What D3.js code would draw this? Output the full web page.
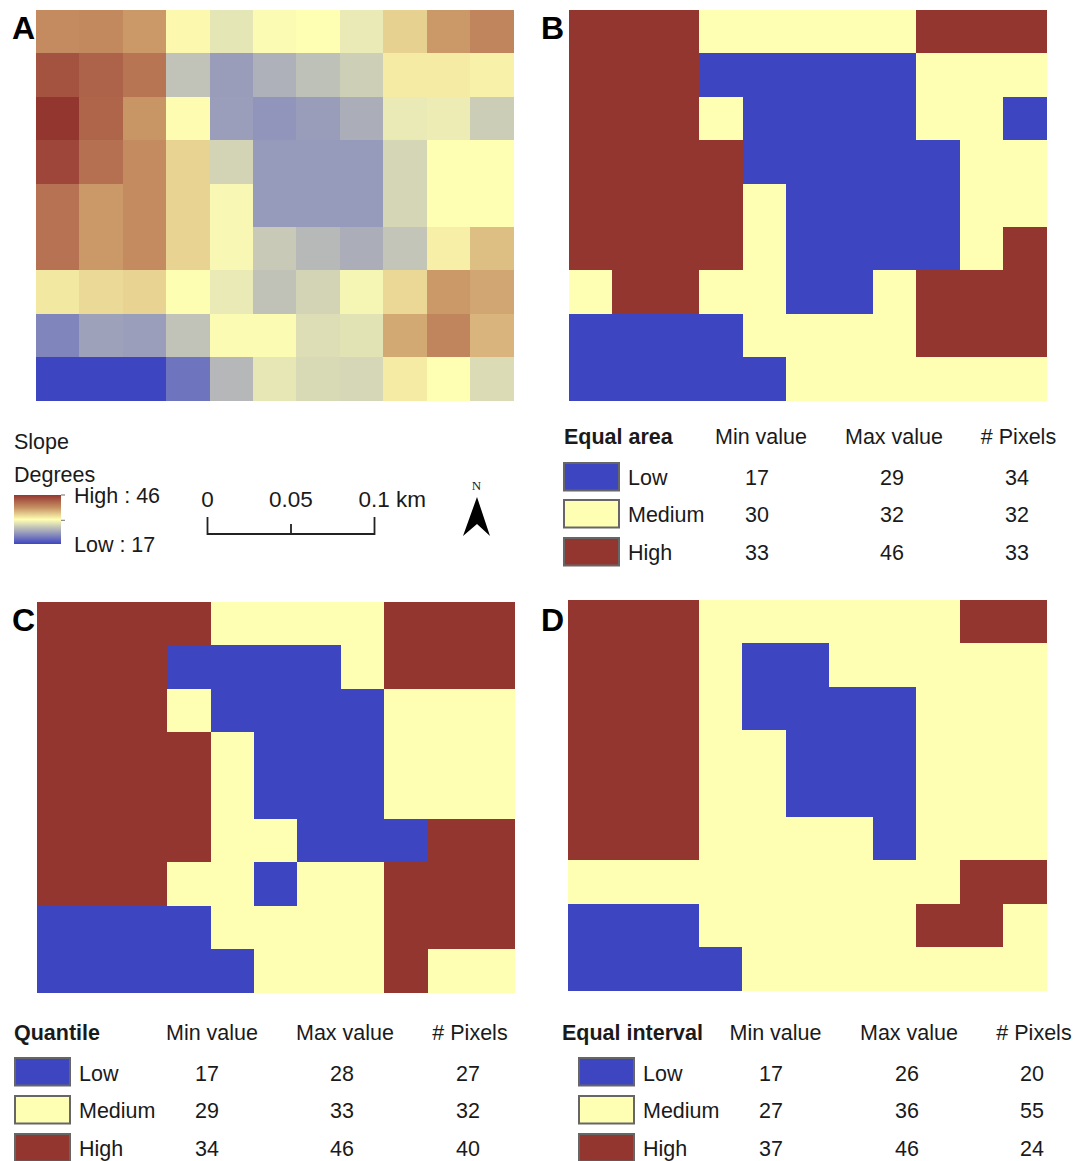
<!DOCTYPE html>
<html>
<head>
<meta charset="utf-8">
<script src="https://cdn.jsdelivr.net/npm/d3@7"></script>
<style>
html,body{margin:0;padding:0;background:#fff}
svg{display:block}
text{font-family:"Liberation Sans",Arial,sans-serif;fill:#1a1a1a}
</style>
</head>
<body>
<svg id="chart" width="1073" height="1161"></svg>
<script>
// ---------- data ----------
const rowsIdx = d3.range(9), colsIdx = d3.range(11);
const slope = [
 [39.5,39.7,38.5,31.5,29.1,30.7,31.0,29.4,34.4,38.5,40.0],
 [43.8,42.6,41.2,26.5,23.6,25.1,26.3,27.4,32.5,32.5,32.0],
 [46.0,42.4,38.8,31.2,23.7,23.0,23.6,24.9,29.4,29.6,27.2],
 [44.8,41.6,39.5,34.2,27.8,23.4,23.4,23.4,27.9,31.0,31.0],
 [41.4,38.5,39.5,34.2,30.5,23.4,23.4,23.4,27.9,31.0,31.0],
 [41.4,38.5,39.5,34.2,30.5,27.0,25.7,24.9,26.6,32.2,35.8],
 [32.7,33.8,34.2,31.1,29.4,26.4,27.8,30.3,33.9,38.5,37.5],
 [21.8,23.9,23.7,26.5,30.7,30.7,28.5,28.9,37.4,40.0,36.5],
 [17.0,17.0,17.0,20.5,25.6,29.2,28.2,28.0,32.5,31.0,28.4]
];
const equalArea = ["HHHMMMMMHHH","HHHLLLLLMMM","HHHMLLLLMML","HHHHLLLLLMM","HHHHMLLLLMM","HHHHMLLLLMH","MHHMMLLMHHH","LLLLMMMMHHH","LLLLLMMMMMM"];
const quantile  = ["HHHHMMMMHHH","HHHLLLLMHHH","HHHMLLLLMMM","HHHHMLLLMMM","HHHHMLLLMMM","HHHHMMLLLHH","HHHMMLMMHHH","LLLLMMMMHHH","LLLLLMMMHMM"];
const equalInterval = ["HHHMMMMMMHH","HHHMLLMMMMM","HHHMLLLLMMM","HHHMMLLLMMM","HHHMMLLLMMM","HHHMMMMLMMM","MMMMMMMMMHH","LLLMMMMMHHM","LLLLMMMMMMM"];
const classNames = ["Low","Medium","High"];
const columnHeads = ["Min value","Max value","# Pixels"];
const equalAreaTable = [[17,29,34],[30,32,32],[33,46,33]];
const quantileTable = [[17,28,27],[29,33,32],[34,46,40]];
const equalIntervalTable = [[17,26,20],[27,36,55],[37,46,24]];
const slopeStops = [17,31,39,46];
const scaleTicks = [0,0.05,0.1];

// ---------- colours ----------
const LOW="#3e45c1", MED="#ffffb3", WARM="#c79263", HIGH="#943630";
const classColor = d3.scaleOrdinal().domain(["L","M","H"]).range([LOW,MED,HIGH]);
const slopeColor = d3.scaleLinear().domain(slopeStops).range([LOW,MED,WARM,HIGH]).interpolate(d3.interpolateRgb);

const FS = 21.5;
const svg = d3.select("#chart");

function drawGrid(box, fill, rows){
  const x = d3.scaleBand().domain(colsIdx).range([box.x0,box.x1-0.5]);
  const y = d3.scaleBand().domain(rowsIdx).range([box.y0,box.y1-0.5]);
  const g = svg.append("g").attr("shape-rendering","crispEdges");
  rows.forEach((row,r)=>{
    g.selectAll(null).data(Array.from(row)).join("rect")
      .attr("x",(d,c)=>x(c)).attr("y",y(r))
      .attr("width",x.bandwidth()+0.5).attr("height",y.bandwidth()+0.5)
      .attr("fill",fill);
  });
}
drawGrid({x0:36,x1:514,y0:10,y1:401}, slopeColor, slope);
drawGrid({x0:569,x1:1047,y0:10,y1:401}, classColor, equalArea);
drawGrid({x0:37,x1:515,y0:602,y1:993}, classColor, quantile);
drawGrid({x0:568,x1:1047,y0:600,y1:991}, classColor, equalInterval);

// panel letters
[["A",12,39],["B",541,39],["C",12,631],["D",541,631]].forEach(([t,x,y])=>{
  svg.append("text").attr("x",x).attr("y",y).attr("font-size",32).attr("font-weight","bold").style("fill","#000").text(t);
});

// tables
function drawTable(o){
  svg.append("text").attr("x",o.title).attr("y",o.headY).attr("font-size",FS).attr("font-weight","bold").text(o.name);
  columnHeads.forEach((h,i)=>{
    svg.append("text").attr("x",o.heads[i]).attr("y",o.headY).attr("text-anchor","middle").attr("font-size",FS).text(h);
  });
  classNames.forEach((n,r)=>{
    svg.append("rect").attr("x",o.swatch+1).attr("y",o.swY[r]+1).attr("width",55).attr("height",27.5)
      .attr("fill",[LOW,MED,HIGH][r]).attr("stroke","#666").attr("stroke-width",2);
    svg.append("text").attr("x",o.label).attr("y",o.rowY[r]).attr("font-size",FS).text(n);
    o.table[r].forEach((v,i)=>{
      svg.append("text").attr("x",o.vals[i]).attr("y",o.rowY[r]).attr("text-anchor","middle").attr("font-size",FS).text(v);
    });
  });
}
drawTable({name:"Equal area",table:equalAreaTable,title:564,swatch:563,label:628,heads:[761,894,1018.5],vals:[757,892,1017],headY:444,rowY:[485,522,560],swY:[462,499,537]});
drawTable({name:"Quantile",table:quantileTable,title:14,swatch:14,label:79,heads:[212,345,470],vals:[207,342,468],headY:1040,rowY:[1081,1118,1156],swY:[1057,1095,1133]});
drawTable({name:"Equal interval",table:equalIntervalTable,title:562,swatch:578,label:643,heads:[775.5,909,1034],vals:[771,907,1032],headY:1040,rowY:[1081,1118,1156],swY:[1057,1095,1133]});

// slope legend
svg.append("text").attr("x",14).attr("y",449).attr("font-size",FS).text("Slope");
svg.append("text").attr("x",14).attr("y",482).attr("font-size",FS).text("Degrees");
const defs = svg.append("defs");
const grad = defs.append("linearGradient").attr("id","ramp").attr("x1",0).attr("x2",0).attr("y1",0).attr("y2",1);
[46,39,31,17].forEach((v,i)=>grad.append("stop").attr("offset",[0,0.26,0.5,1][i]).attr("stop-color",slopeColor(v)));
svg.append("rect").attr("x",14).attr("y",495).attr("width",47).attr("height",49).attr("fill","url(#ramp)");
const rampY = d3.scaleLinear().domain([46,17]).range([495,544]);
[46,31].forEach(v=>svg.append("line").attr("x1",61).attr("x2",65).attr("y1",rampY(v)).attr("y2",rampY(v)).attr("stroke","#888").attr("stroke-width",1.2));
svg.append("text").attr("x",74).attr("y",503).attr("font-size",FS).text("High : 46");
svg.append("text").attr("x",74).attr("y",552).attr("font-size",FS).text("Low : 17");

// scale bar
const km = d3.scaleLinear().domain([0,0.1]).range([207.5,374.5]);
svg.append("path").attr("fill","none").attr("stroke","#222").attr("stroke-width",1.8)
  .attr("d",`M${km(0)},517V534H${km(0.1)}V517M${km(0.05)},534V524`);
scaleTicks.forEach(t=>{
  svg.append("text").attr("x",km(t)).attr("y",507).attr("text-anchor",t===0.1?"start":"middle")
    .attr("dx",t===0.1?-16:0).attr("font-size",22.5)
    .text(t===0.1?"0.1 km":t);
});

// north arrow
svg.append("text").attr("x",476.5).attr("y",490).attr("text-anchor","middle").attr("font-size",13)
  .style("font-family","'Liberation Serif',serif").text("N");
svg.append("path").attr("fill","#000").attr("d","M477,497L490,536L477,524L463,536Z");
</script>
</body>
</html>
